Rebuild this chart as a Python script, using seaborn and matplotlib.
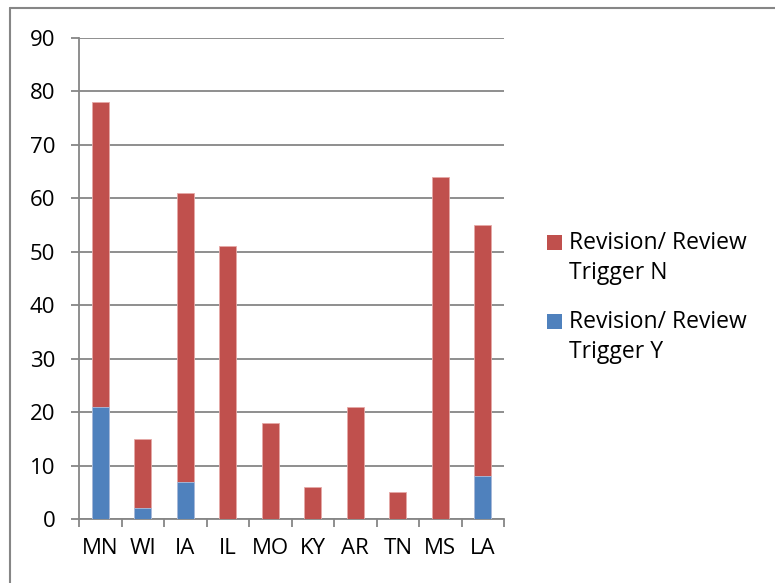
import matplotlib
matplotlib.use("Agg")
import matplotlib.pyplot as plt
import seaborn as sns
import pandas as pd
import numpy as np
from matplotlib.patches import Rectangle
from matplotlib.lines import Line2D

states = ["MN", "WI", "IA", "IL", "MO", "KY", "AR", "TN", "MS", "LA"]
trigger_y = [21, 2, 7, 0, 0, 0, 0, 0, 0, 8]
trigger_n = [57, 13, 54, 51, 18, 6, 21, 5, 64, 47]
y_ticks = [0, 10, 20, 30, 40, 50, 60, 70, 80, 90]
legend_labels = ["Revision/ Review\nTrigger N", "Revision/ Review\nTrigger Y"]

RED = "#C0504D"
BLUE = "#4F81BD"
GRID = "#868686"

sns.set_theme(style="white")
plt.rcParams["font.family"] = ["Open Sans", "DejaVu Sans"]

W, H = 775, 583
df = pd.DataFrame({"state": states, "y": trigger_y, "n": trigger_n})
df["total"] = df["y"] + df["n"]

fig = plt.figure(figsize=(W / 100, H / 100), dpi=100)
ax = fig.add_axes([79 / W, 1 - 519 / H, (504 - 79) / W, (519 - 38) / H])

sns.barplot(data=df, x="state", y="total", color=RED, width=0.4, ax=ax,
            saturation=1, edgecolor="#E6A9A7", linewidth=0.6, zorder=3)
sns.barplot(data=df, x="state", y="y", color=BLUE, width=0.4, ax=ax,
            saturation=1, edgecolor="#A9C0E0", linewidth=0.6, zorder=4)

ax.set_xlim(-0.5, len(states) - 0.5)
ax.set_ylim(0, 90)
ax.set_yticks(y_ticks)
ax.set_xlabel("")
ax.set_ylabel("")
ax.yaxis.grid(True, color=GRID, linewidth=1.3, zorder=0)
ax.set_axisbelow(True)

for side in ["top", "right"]:
    ax.spines[side].set_visible(False)
for side in ["left", "bottom"]:
    ax.spines[side].set_color(GRID)
    ax.spines[side].set_linewidth(1.3)

ax.tick_params(axis="y", which="major", length=6, width=1.3, color=GRID,
               labelsize=16, pad=11, left=True)
ax.tick_params(axis="x", which="major", length=0, labelsize=16, pad=14)
ax.set_xticks(np.arange(-0.5, len(states), 1.0), minor=True)
ax.tick_params(axis="x", which="minor", length=6, width=1.3, color=GRID, bottom=True)
for lab in ax.get_xticklabels() + ax.get_yticklabels():
    lab.set_color("black")

# legend (square aligned with first text line, as in the reference)
colors = [RED, BLUE]
centers = [242, 321]
for lab, col, cy in zip(legend_labels, colors, centers):
    fig.patches.append(Rectangle((547 / W, 1 - (cy + 7.5) / H), 15 / W, 15 / H,
                                 transform=fig.transFigure, facecolor=col, edgecolor="none"))
    for i, line in enumerate(lab.split("\n")):
        base = cy + 7 + i * 30
        fig.text(569 / W, 1 - base / H, line, fontsize=16.5, color="black",
                 ha="left", va="baseline")

# chart-area border (top and left visible)
fig.add_artist(Line2D([10 / W, 1.0], [1 - 8 / H, 1 - 8 / H], transform=fig.transFigure,
                      color=GRID, linewidth=1.5))
fig.add_artist(Line2D([10 / W, 10 / W], [0, 1 - 8 / H], transform=fig.transFigure,
                      color=GRID, linewidth=1.5))

fig.savefig("out.png", dpi=100)
